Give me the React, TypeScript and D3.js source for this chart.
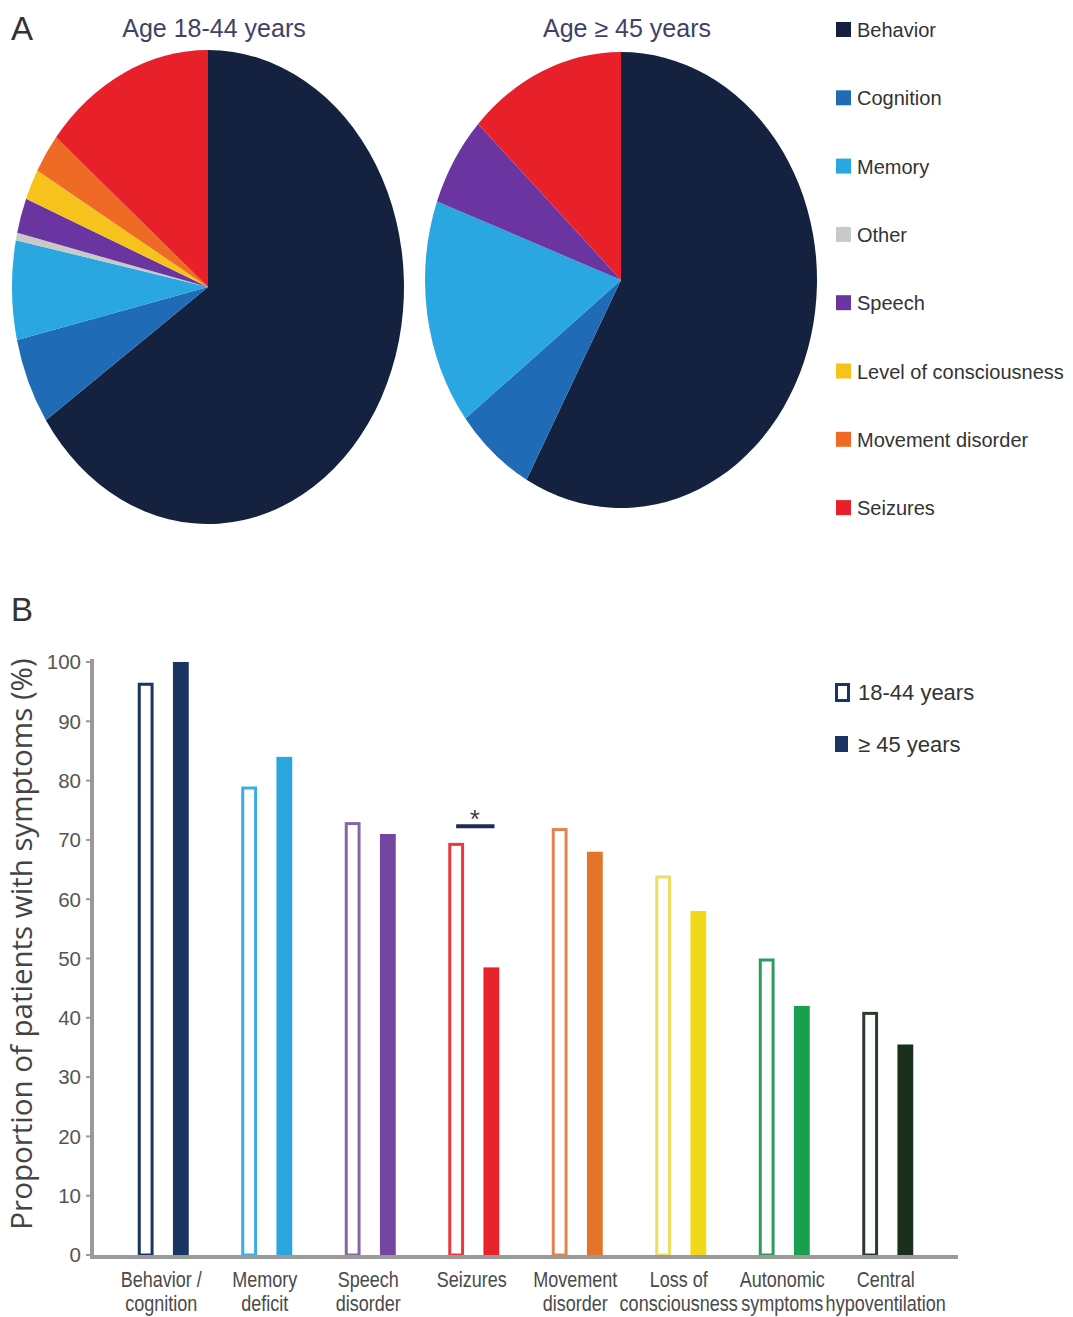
import React from "react";
import * as d3 from "d3";

// ---- panel A: symptom at onset (pies) ----
const pieCategories = [
  "Behavior",
  "Cognition",
  "Memory",
  "Other",
  "Speech",
  "Level of consciousness",
  "Movement disorder",
  "Seizures",
];
const pieYoung = [65.4, 5.9, 6.75, 0.5, 2.4, 2.1, 2.7, 14.1];
const pieOld = [58, 6.6, 16, 0, 6.4, 0, 0, 13];
const pieColors = ["#14223f", "#1f6bb5", "#2aa7e0", "#c9c9c9", "#6a35a0", "#f6c21c", "#ee6a25", "#e8202a"];

// ---- panel B: symptoms during disease course ----
const barCategories = [
  ["Behavior /", "cognition"],
  ["Memory", "deficit"],
  ["Speech", "disorder"],
  ["Seizures", ""],
  ["Movement", "disorder"],
  ["Loss of", "consciousness"],
  ["Autonomic", "symptoms"],
  ["Central", "hypoventilation"],
];
const young = [96.5, 79, 73, 69.5, 72, 64, 50, 41];
const old = [100, 84, 71, 48.5, 68, 58, 42, 35.5];
const seriesKeys = ["18-44 years", "≥ 45 years"];
const yTicks = [0, 10, 20, 30, 40, 50, 60, 70, 80, 90, 100];
const sigLevel = 72.3;
const sigIndex = 3;

const barFill = ["#1b3563", "#2ba6df", "#7446a0", "#e8232b", "#e5742b", "#f0d81a", "#19a04f", "#1a2e1c"];
const barStroke = ["#1b3563", "#3aaee2", "#86679f", "#e8393e", "#e58350", "#e9e060", "#2f9a5e", "#2c3b2e"];

const W = 1073;
const H = 1317;
const FONT = "'Liberation Sans', Arial, Helvetica, sans-serif";

const Pie = ({ values, cx, cy, rx, ry, title }) => {
  const arcs = d3.pie().sort(null).value((d) => d)(values);
  const arc = d3.arc().innerRadius(0).outerRadius(rx);
  return (
    <g>
      <text x={cx + 6} y={37} textAnchor="middle" fontSize={25} fill="#3f4266" fontFamily={FONT}>
        {title}
      </text>
      <g transform={`translate(${cx},${cy}) scale(1,${ry / rx})`}>
        {arcs.map((a, i) =>
          a.value > 0 ? <path key={i} d={arc(a)} fill={pieColors[i]} /> : null
        )}
      </g>
    </g>
  );
};

const App = () => {
  const x0 = d3.scaleBand().domain(d3.range(barCategories.length)).range([111.5, 939.5]);
  const x1 = d3.scaleBand().domain(seriesKeys).range([-25.5, 25.5]).paddingInner(0.55);
  const y = d3.scaleLinear().domain([0, 100]).range([1255, 662]);
  const bw = x1.bandwidth();
  const c = (i) => x0(i) + x0.bandwidth() / 2;

  return (
    <svg
      width={W}
      height={H}
      style={{ position: "absolute", left: 0, top: 0, background: "#fff" }}
      fontFamily={FONT}
    >
      <rect width={W} height={H} fill="#fff" />
      <text x={11} y={40} fontSize={33} fill="#333">A</text>
      <Pie values={pieYoung} cx={208} cy={287} rx={196} ry={237} title="Age 18-44 years" />
      <Pie values={pieOld} cx={621} cy={280} rx={196} ry={228} title="Age ≥ 45 years" />

      {pieCategories.map((name, i) => {
        const cyRow = 30 + i * 68.3;
        return (
          <g key={name}>
            <rect x={836} y={cyRow - 8} width={15} height={15} fill={pieColors[i]} />
            <text x={857} y={cyRow + 7} fontSize={20} fill="#333">{name}</text>
          </g>
        );
      })}

      {/* panel B */}
      <text x={11} y={621} fontSize={33} fill="#333">B</text>
      <text
        transform={`translate(32,944) rotate(-90)`}
        textAnchor="middle"
        fontSize={29.5}
        fill="#444"
        fontFamily="'Open Sans', sans-serif"
      >
        Proportion of patients with symptoms (%)
      </text>

      {yTicks.map((t) => (
        <g key={t}>
          <line x1={86} x2={92} y1={y(t)} y2={y(t)} stroke="#999" strokeWidth={2} />
          <text x={81} y={y(t)} dy="0.36em" textAnchor="end" fontSize={20.5} fill="#555">
            {t}
          </text>
        </g>
      ))}

      {barCategories.map((lines, i) => (
        <g key={i} transform={`translate(${c(i)},0)`}>
          <rect
            x={x1(seriesKeys[0]) + 1.5}
            y={y(young[i]) + 1.5}
            width={bw - 3}
            height={y(0) - y(young[i]) - 1.5}
            fill="#fff"
            stroke={barStroke[i]}
            strokeWidth={3}
          />
          <rect
            x={x1(seriesKeys[1])}
            y={y(old[i])}
            width={bw}
            height={y(0) - y(old[i])}
            fill={barFill[i]}
          />
          <g transform="translate(-2,0) scale(0.82,1)">
            <text y={1287} textAnchor="middle" fontSize={22} fill="#4a4a4a">
              <tspan x={0}>{lines[0]}</tspan>
              <tspan x={0} y={1311}>{lines[1]}</tspan>
            </text>
          </g>
        </g>
      ))}

      {/* axes */}
      <line x1={92} x2={92} y1={659} y2={1257} stroke="#9a9a9a" strokeWidth={4} />
      <line x1={90} x2={958} y1={1257} y2={1257} stroke="#9a9a9a" strokeWidth={4} />

      {/* significance */}
      <line
        x1={c(sigIndex) + x1(seriesKeys[0]) + bw / 2}
        x2={c(sigIndex) + x1(seriesKeys[1]) + bw * 0.7}
        y1={y(sigLevel)}
        y2={y(sigLevel)}
        stroke="#1d2a5a"
        strokeWidth={4}
      />
      <text x={c(sigIndex) + 1} y={y(sigLevel) + 2} textAnchor="middle" fontSize={26} fill="#3a3f5c">*</text>

      {/* legend B */}
      <rect x={836.5} y={684.5} width={12} height={16} fill="#fff" stroke="#1b3563" strokeWidth={3} />
      <text x={858} y={700} fontSize={22} fill="#333">{seriesKeys[0]}</text>
      <rect x={835} y={736} width={13} height={16} fill="#1b3563" />
      <text x={858} y={752} fontSize={22} fill="#333">{seriesKeys[1]}</text>
    </svg>
  );
};

export default App;
